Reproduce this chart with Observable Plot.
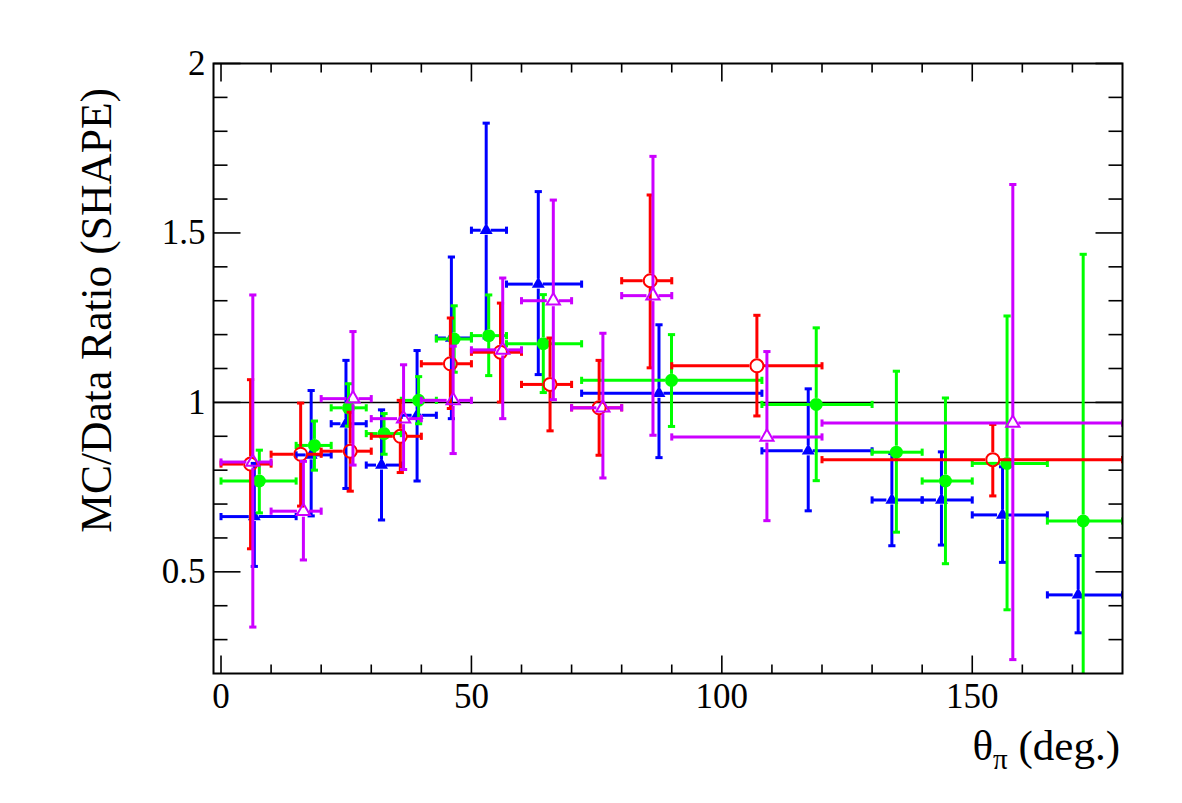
<!DOCTYPE html>
<html>
<head>
<meta charset="utf-8">
<script src="https://cdn.jsdelivr.net/npm/d3@7"></script>
<script src="https://cdn.jsdelivr.net/npm/@observablehq/plot@0.6"></script>
<style>
  html, body { margin: 0; padding: 0; background: #fff; overflow: hidden; }
  #chart svg { display: block; }
</style>
</head>
<body>
<div id="chart"></div>
<script>
// ---------- data ----------
// Red open circles and violet open triangles share 11 bins
const redXlo = [0, 10, 20, 30, 40, 50, 60, 70, 80, 90, 120];
const redXhi = [10, 20, 30, 40, 50, 60, 70, 80, 90, 120, 180];
const redX   = [5.9, 15.9, 25.8, 35.8, 45.8, 55.8, 65.7, 75.5, 85.7, 107.0, 154.1];
const redY   = [0.818, 0.847, 0.856, 0.900, 1.114, 1.148, 1.053, 0.984, 1.359, 1.108, 0.831];
const redHi  = [1.067, 0.998, 0.971, 1.006, 1.249, 1.293, 1.190, 1.124, 1.612, 1.257, 0.935];
const redLo  = [0.568, 0.694, 0.738, 0.793, 0.982, 1.001, 0.916, 0.844, 1.102, 0.960, 0.724];

const magX   = [6.35, 16.45, 26.35, 36.45, 46.35, 56.25, 66.35, 76.25, 86.25, 109.0, 158.1];
const magY   = [0.824, 0.679, 1.011, 0.952, 1.006, 1.155, 1.300, 0.984, 1.315, 0.898, 0.939];
const magHi  = [1.317, 0.826, 1.209, 1.111, 1.166, 1.367, 1.597, 1.204, 1.726, 1.150, 1.643];
const magLo  = [0.337, 0.535, 0.815, 0.802, 0.849, 0.952, 1.008, 0.777, 0.903, 0.651, 0.241];

// Green filled circles and blue filled triangles share 14 bins
const gbXlo = [0, 15, 22, 29, 36, 43, 50, 57, 72, 108, 130, 140, 150, 165];
const gbXhi = [15, 22, 29, 36, 43, 50, 57, 72, 108, 130, 140, 150, 165, 180];

const greenX  = [7.65, 18.65, 25.45, 32.55, 39.45, 46.55, 53.45, 64.35, 89.95, 118.85, 134.85, 144.65, 156.95, 172.15];
const greenY  = [0.768, 0.873, 0.984, 0.908, 1.006, 1.187, 1.197, 1.173, 1.065, 0.994, 0.853, 0.768, 0.820, 0.650];
const greenHi = [0.859, 0.945, 1.055, 0.967, 1.076, 1.285, 1.317, 1.318, 1.200, 1.220, 1.092, 1.013, 1.255, 1.437];
const greenLo = [0.674, 0.800, 0.930, 0.847, 0.937, 1.089, 1.079, 1.029, 0.929, 0.769, 0.617, 0.524, 0.388, 0.150];

const blueX  = [6.65, 18.0, 24.95, 32.05, 39.15, 46.0, 52.95, 63.35, 87.45, 117.25, 133.95, 143.85, 156.05, 171.15];
const blueY  = [0.663, 0.845, 0.937, 0.815, 0.962, 1.190, 1.508, 1.349, 1.027, 0.857, 0.712, 0.712, 0.668, 0.432];
const blueHi = [0.820, 1.035, 1.124, 0.978, 1.153, 1.429, 1.824, 1.622, 1.229, 1.040, 0.849, 0.854, 0.810, 0.548];
const blueLo = [0.516, 0.665, 0.746, 0.653, 0.768, 0.952, 1.190, 1.082, 0.837, 0.680, 0.577, 0.579, 0.528, 0.320];

// ticks
const xMajor = [0, 50, 100, 150];
const xMinor = [10, 20, 30, 40, 60, 70, 80, 90, 110, 120, 130, 140, 160, 170];
const yMajor = [0.5, 1, 1.5, 2];
const yMajorLabels = ["0.5", "1", "1.5", "2"];
const yMinor = [0.3, 0.4, 0.6, 0.7, 0.8, 0.9, 1.1, 1.2, 1.3, 1.4, 1.6, 1.7, 1.8, 1.9];

// ---------- helpers ----------
const seg = (dx, dy) => ({draw(ctx) { ctx.moveTo(0, 0); ctx.lineTo(dx, dy); }});
const bar = (dx, dy) => ({draw(ctx) { ctx.moveTo(-dx, -dy); ctx.lineTo(dx, dy); }});

const FONT = "'Liberation Serif', 'DejaVu Serif', serif";
const EW = 3;      // error-bar width
const CAP = 3.6;   // half cap length

function series(xs, ys, lo, hi, xlo, xhi, color, symbol, filled, r, gap) {
  const data = xs.map((x, i) => ({x, y: ys[i], lo: lo[i], hi: hi[i], xlo: xlo[i], xhi: xhi[i]}));
  const line = {stroke: color, strokeWidth: EW, clip: true};
  return [
    Plot.ruleX(data, {x: "x", y1: "hi", y2: "y", insetBottom: gap, ...line}),
    Plot.ruleX(data, {x: "x", y1: "y", y2: "lo", insetTop: gap, ...line}),
    Plot.ruleY(data, {y: "y", x1: "xlo", x2: "x", insetRight: gap, ...line}),
    Plot.ruleY(data, {y: "y", x1: "x", x2: "xhi", insetLeft: gap, ...line}),
    Plot.dot(data, {x: "x", y: "hi", r: 1, symbol: bar(CAP, 0), fill: "none", ...line}),
    Plot.dot(data, {x: "x", y: "lo", r: 1, symbol: bar(CAP, 0), fill: "none", ...line}),
    Plot.dot(data, {x: "xlo", y: "y", r: 1, symbol: bar(0, CAP), fill: "none", ...line}),
    Plot.dot(data, {x: "xhi", y: "y", r: 1, symbol: bar(0, CAP), fill: "none", ...line}),
    Plot.dot(data, {
      x: "x", y: "y", r, symbol,
      fill: filled ? color : "none",
      stroke: filled ? "none" : color,
      strokeWidth: filled ? 0 : 2
    })
  ];
}

const tickStyle = {stroke: "black", strokeWidth: 1.6, fill: "none", r: 1};

const chart = Plot.plot({
  width: 1182,
  height: 803,
  marginLeft: 213,
  marginRight: 60,
  marginTop: 63,
  marginBottom: 130,
  style: {background: "white", fontFamily: FONT},
  x: {domain: [-1.5, 180], axis: null},
  y: {domain: [0.2, 2], axis: null},
  marks: [
    Plot.ruleY([1], {stroke: "black", strokeWidth: 1.5}),
    ...series(blueX, blueY, blueLo, blueHi, gbXlo, gbXhi, "#0000ff", "triangle", true, 4.8, 5),
    ...series(greenX, greenY, greenLo, greenHi, gbXlo, gbXhi, "#00ff00", "circle", true, 6.5, 6),
    ...series(redX, redY, redLo, redHi, redXlo, redXhi, "#ff0000", "circle", false, 6.5, 7),
    ...series(magX, magY, magLo, magHi, redXlo, redXhi, "#cc00ff", "triangle", false, 4.9, 6),
    // ticks (inward, on all four sides)
    Plot.dot(xMajor, {x: d => d, frameAnchor: "bottom", symbol: seg(0, -18), ...tickStyle}),
    Plot.dot(xMajor, {x: d => d, frameAnchor: "top", symbol: seg(0, 18), ...tickStyle}),
    Plot.dot(xMinor, {x: d => d, frameAnchor: "bottom", symbol: seg(0, -9), ...tickStyle}),
    Plot.dot(xMinor, {x: d => d, frameAnchor: "top", symbol: seg(0, 9), ...tickStyle}),
    Plot.dot(yMajor, {y: d => d, frameAnchor: "left", symbol: seg(27, 0), ...tickStyle}),
    Plot.dot(yMajor, {y: d => d, frameAnchor: "right", symbol: seg(-27, 0), ...tickStyle}),
    Plot.dot(yMinor, {y: d => d, frameAnchor: "left", symbol: seg(14, 0), ...tickStyle}),
    Plot.dot(yMinor, {y: d => d, frameAnchor: "right", symbol: seg(-14, 0), ...tickStyle}),
    // tick labels
    Plot.text(xMajor, {x: d => d, frameAnchor: "bottom", text: d => String(d), lineAnchor: "top",
      dy: 10, fontSize: 35, fontFamily: FONT, fill: "black"}),
    Plot.text(yMajor, {y: d => d, frameAnchor: "left", text: (d, i) => yMajorLabels[i], textAnchor: "end",
      dx: -8, fontSize: 35, fontFamily: FONT, fill: "black"}),
    Plot.frame({stroke: "black", strokeWidth: 2})
  ]
});

document.getElementById("chart").appendChild(chart);

// axis titles
const svg = d3.select(chart);
const xt = svg.append("text")
  .attr("x", 1120).attr("y", 760)
  .attr("text-anchor", "end")
  .attr("font-family", FONT).attr("font-size", 43).attr("fill", "black");
xt.append("tspan").text("θ");
xt.append("tspan").attr("font-size", 29).attr("dy", 9).text("π");
xt.append("tspan").attr("dy", -9).text(" (deg.)");

svg.append("text")
  .attr("transform", "translate(111,88) rotate(-90)")
  .attr("text-anchor", "end")
  .attr("font-family", FONT).attr("font-size", 43.5).attr("fill", "black")
  .text("MC/Data Ratio (SHAPE)");
</script>
</body>
</html>
